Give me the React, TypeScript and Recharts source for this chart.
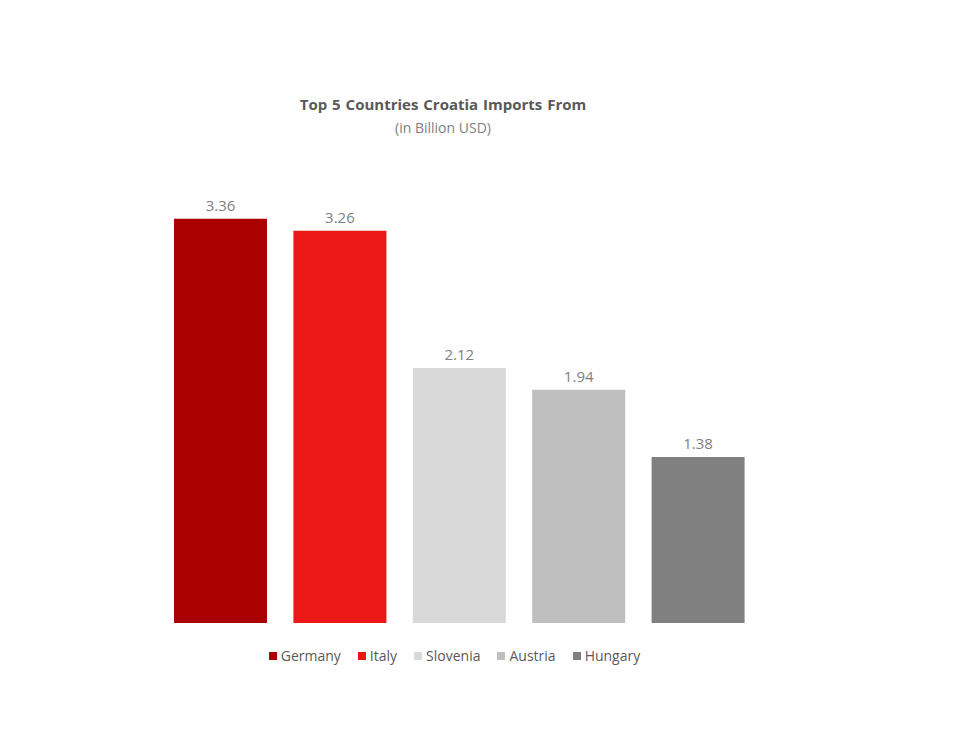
import { BarChart, Bar, XAxis, YAxis, Cell, LabelList } from "recharts";

const countries = ["Germany", "Italy", "Slovenia", "Austria", "Hungary"];
const imports = [3.36, 3.26, 2.12, 1.94, 1.38];
const colors = ["#ab0000", "#ec1818", "#d9d9d9", "#bfbfbf", "#808080"];

const data = countries.map((name, i) => ({ name, value: imports[i] }));

const font = "'Open Sans', 'Noto Sans', sans-serif";

function LegendItems() {
  return (
    <div
      style={{
        position: "absolute",
        left: 0,
        width: 893,
        top: 638,
        display: "flex",
        justifyContent: "center",
        gap: 17,
        fontFamily: font,
        fontSize: 14,
        color: "#595959",
      }}
    >
      {countries.map((c, i) => (
        <span key={c} style={{ display: "flex", alignItems: "center" }}>
          <span style={{ width: 8, height: 8, background: colors[i], marginRight: 4, display: "inline-block" }} />
          {c}
        </span>
      ))}
    </div>
  );
}

export default function App() {
  return (
    <div style={{ position: "relative", width: 937, height: 730, background: "#fff" }}>
      <div style={{ position: "absolute", left: 0, top: 86, width: 870, textAlign: "center", fontFamily: font, fontWeight: 700, fontSize: 15, wordSpacing: 1, color: "#595959" }}>
        Top 5 Countries Croatia Imports From
      </div>
      <div style={{ position: "absolute", left: 0, top: 110, width: 870, textAlign: "center", fontFamily: font, fontSize: 14, color: "#7f7f7f" }}>
        (in Billion USD)
      </div>
      <BarChart
        width={937}
        height={730}
        data={data}
        margin={{ top: 194, right: 187, bottom: 115, left: 153 }}
        barCategoryGap={13}
      >
        <XAxis dataKey="name" hide />
        <YAxis domain={[0, 3.5]} hide />
        <Bar dataKey="value" isAnimationActive={false}>
          {data.map((d, i) => (
            <Cell key={d.name} fill={colors[i]} />
          ))}
          <LabelList dataKey="value" position="top" offset={8} fill="#7f7f7f" fontSize={15} fontFamily={font} />
        </Bar>
      </BarChart>
      <LegendItems />
    </div>
  );
}
